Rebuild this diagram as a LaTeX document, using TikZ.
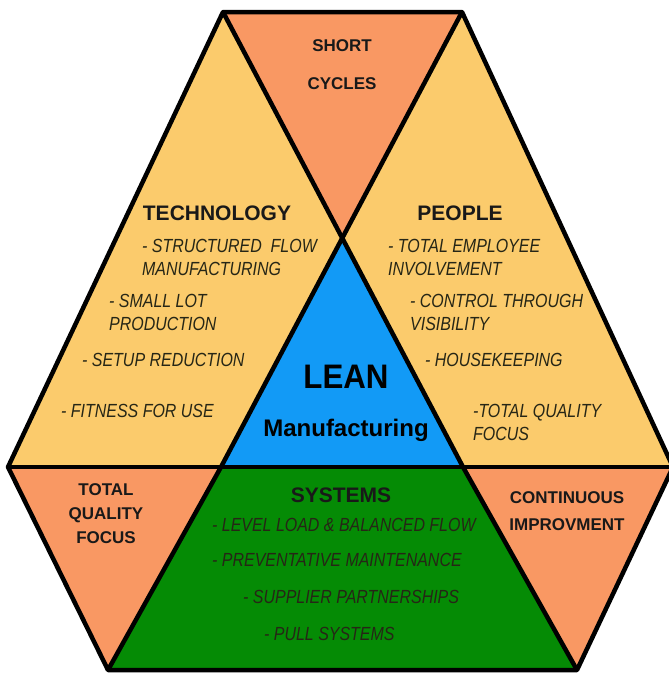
\documentclass[tikz,border=0pt]{standalone}
\usepackage{fontspec}
\setmainfont{Liberation Sans}
\newfontfamily\itemfont[FakeStretch=0.84]{Liberation Sans}
\newfontfamily\leanfont[FakeStretch=0.92]{Liberation Sans}
\definecolor{salmon}{HTML}{F99863}
\definecolor{sand}{HTML}{FBCB6C}
\definecolor{leanblue}{HTML}{129AF6}
\definecolor{sysgreen}{HTML}{058B05}
\definecolor{itemink}{HTML}{262616}
\tikzset{
  region/.style={draw=black, line width=4.5pt, line join=round},
  bighead/.style={font=\fontsize{21}{24}\selectfont\bfseries, text=black!90, inner sep=0pt},
  smallhead/.style={font=\fontsize{17}{24}\selectfont\bfseries, text=black!90, inner sep=0pt, align=center},
  item/.style={font=\itemfont\itshape\fontsize{19}{23}\selectfont, text=itemink, inner sep=0pt, align=left, anchor=west},
}
\begin{document}
\begin{tikzpicture}[x=1pt,y=-1pt]
\useasboundingbox (0,0) rectangle (669,675);
% corner points
\coordinate (TL) at (223,12);
\coordinate (TR) at (462,12);
\coordinate (C)  at (342,238);
\coordinate (L)  at (8,467);
\coordinate (R)  at (673,467);
\coordinate (ML) at (221,467);
\coordinate (MR) at (463,467);
\coordinate (BL) at (108,670);
\coordinate (BR) at (577,670);
% regions
\fill[sand] (TL) -- (C) -- (ML) -- (L) -- cycle;
\fill[sand] (TR) -- (R) -- (MR) -- (C) -- cycle;
\fill[salmon] (TL) -- (TR) -- (C) -- cycle;
\fill[leanblue] (C) -- (MR) -- (ML) -- cycle;
\fill[salmon] (L) -- (ML) -- (BL) -- cycle;
\fill[sysgreen] (ML) -- (MR) -- (BR) -- (BL) -- cycle;
\fill[salmon] (MR) -- (R) -- (BR) -- cycle;
% outlines
\draw[region] (TL) -- (TR) -- (R) -- (BR) -- (BL) -- (L) -- cycle;
\draw[region] (L) -- (R);
\draw[region] (TL) -- (MR) -- (BR);
\draw[region] (TR) -- (ML) -- (BL);
% top
\node[smallhead, font=\fontsize{17}{38}\selectfont\bfseries] (short) at (342,65) {SHORT\\CYCLES};
% technology
\node[bighead] (tech) at (217,213) {TECHNOLOGY};
\node[item] (t1) at (142,257.5) {- STRUCTURED~ FLOW\\MANUFACTURING};
\node[item] (t2) at (109,312) {- SMALL LOT\\PRODUCTION};
\node[item] (t3) at (82,360) {- SETUP REDUCTION};
\node[item] (t4) at (61,411) {- FITNESS FOR USE};
% people
\node[bighead] (people) at (460,213) {PEOPLE};
\node[item] (p1) at (388,257.5) {- TOTAL EMPLOYEE\\INVOLVEMENT};
\node[item] (p2) at (410,312) {- CONTROL THROUGH\\VISIBILITY};
\node[item] (p3) at (425,360) {- HOUSEKEEPING};
\node[item] (p4) at (473,422) {-TOTAL QUALITY\\FOCUS};
% center
\node[font=\leanfont\fontsize{34}{38}\selectfont\bfseries, inner sep=0pt] (lean) at (346,377) {LEAN};
\node[font=\fontsize{24}{28}\selectfont\bfseries, inner sep=0pt] (manu) at (346,430) {Manufacturing};
% bottom left / right
\node[smallhead] (tqf) at (106,514) {TOTAL\\QUALITY\\FOCUS};
\node[smallhead, font=\fontsize{17}{27}\selectfont\bfseries] (ci) at (567,511) {CONTINUOUS\\IMPROVMENT};
% systems
\node[bighead] (sys) at (341,495) {SYSTEMS};
\node[item] (s1) at (212,525) {- LEVEL LOAD \& BALANCED FLOW};
\node[item] (s2) at (212,560) {- PREVENTATIVE MAINTENANCE};
\node[item] (s3) at (243,597) {- SUPPLIER PARTNERSHIPS};
\node[item] (s4) at (264,634) {- PULL SYSTEMS};
\end{tikzpicture}
\end{document}
